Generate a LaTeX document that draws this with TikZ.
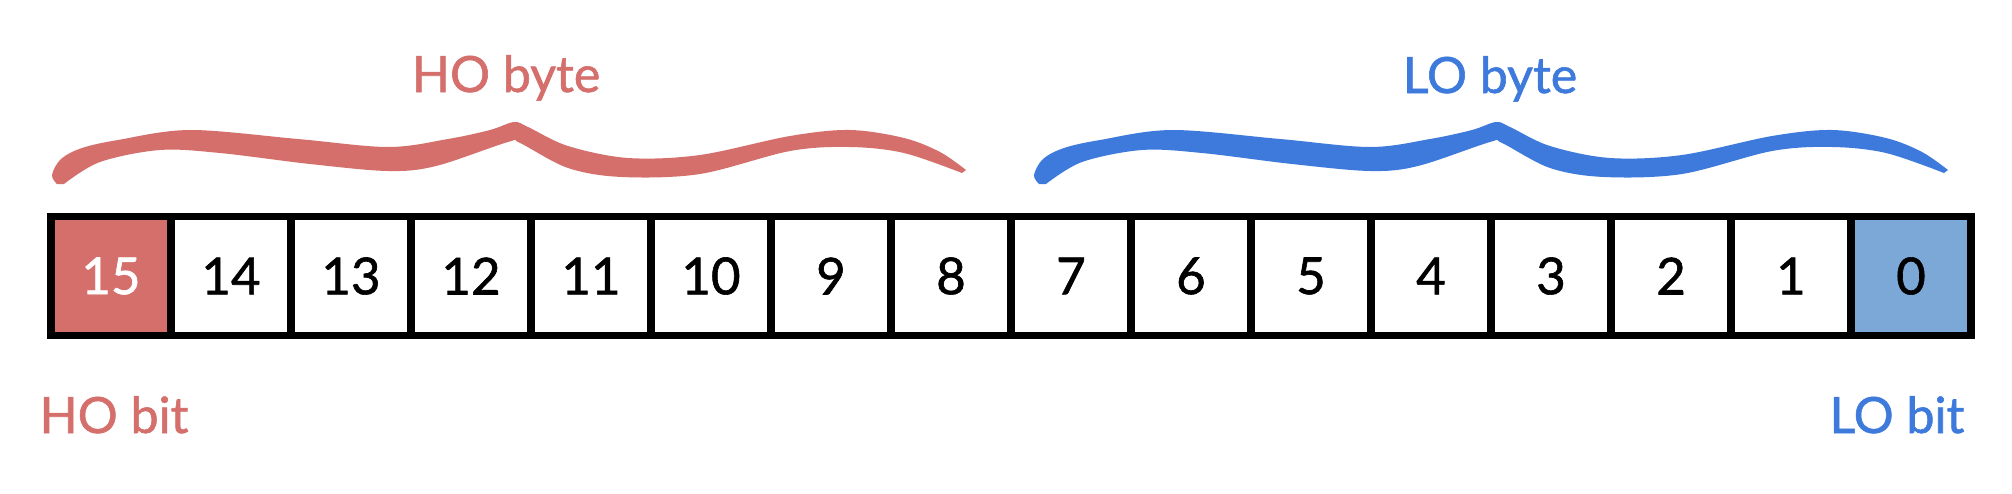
\documentclass[tikz,border=0pt]{standalone}
\usepackage{fontspec}
\setmainfont{Lato}[FakeBold=1.2]
\definecolor{hored}{RGB}{212,111,108}
\definecolor{loblue}{RGB}{62,122,220}
\definecolor{lofill}{RGB}{124,168,216}
\begin{document}
\begin{tikzpicture}[x=1pt,y=-1pt,
  cell/.style={draw=black,line width=7.5pt,minimum width=120pt,minimum height=119pt,inner sep=0pt,
    font=\fontsize{51}{60}\selectfont,text=black},
  lbl/.style={inner sep=0pt,anchor=base,font=\fontsize{50}{60}\selectfont}]
\useasboundingbox (0,0) rectangle (2012,493);
\fill[white] (0,0) rectangle (2012,493);
% braces
\newcommand{\bracepath}{%
  plot[smooth,tension=0.55] coordinates {(57,184) (52,175) (61,159) (82,148) (118,140) (190,130) (298,139) (388,147) (448,139) (490,130) (514,122) (528,127) (568,146) (628,158) (700,155) (790,136) (850,130) (904,138) (940,152) (966,170)}
  -- plot[smooth,tension=0.55] coordinates {(962,173) (904,153) (850,147) (790,151) (700,174) (622,177) (568,168) (520,143) (508,142) (436,166) (388,171) (310,164) (220,153) (160,150) (100,162) (64,184)}
  -- cycle}
\fill[hored] \bracepath;
\begin{scope}[xshift=982pt]
\fill[loblue] \bracepath;
\end{scope}
% labels
\node[lbl,text=hored] (hobyte) at (506,92) {HO byte};
\node[lbl,text=loblue] (lobyte) at (1490,93) {LO byte};
\node[lbl,text=hored] (hobit) at (114,433) {HO bit};
\node[lbl,text=loblue] (lobit) at (1897,433) {LO bit};
% cells
\foreach \b [count=\k from 0] in {15,14,...,0} {
  \ifnum\b=15
    \node[cell,fill=hored,text=white] (c\b) at ({111+120*\k},276) {\b};
  \else\ifnum\b=0
    \node[cell,fill=lofill] (c\b) at ({111+120*\k},276) {\b};
  \else
    \node[cell] (c\b) at ({111+120*\k},276) {\b};
  \fi\fi
}
\end{tikzpicture}
\end{document}
